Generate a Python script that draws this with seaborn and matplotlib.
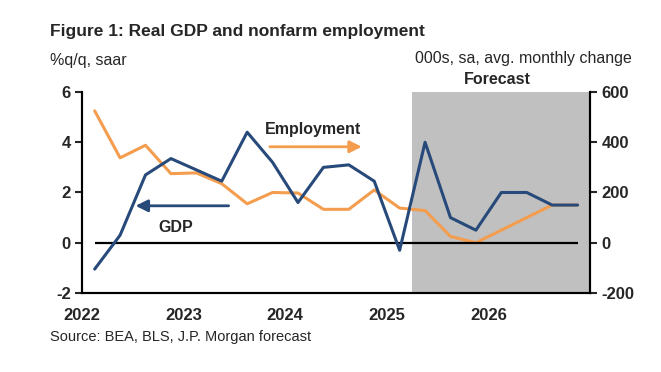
"""
Figure 1: Real GDP and nonfarm employment (twin-axis line chart).
"""
import numpy as np
import pandas as pd
import matplotlib
matplotlib.use('Agg')
import matplotlib.pyplot as plt
import seaborn as sns

sns.set_theme(style='white')
plt.rcParams['font.family'] = ['Liberation Sans', 'DejaVu Sans']

# quarterly data, 2022Q1 .. 2026Q4
years    = [2022]*4 + [2023]*4 + [2024]*4 + [2025]*4 + [2026]*4
quarters = [1, 2, 3, 4] * 5
gdp = [-1.05, 0.3, 2.7, 3.35, 2.9, 2.45, 4.4, 3.2, 1.6, 3.0, 3.1, 2.45,
       -0.3, 4.0, 1.0, 0.5, 2.0, 2.0, 1.5, 1.5]
employment = [525, 338, 388, 275, 278, 235, 155, 200, 198, 133, 133, 210,
              138, 128, 25, 0, 50, 100, 150, 150]
year_ticks = [2022, 2023, 2024, 2025, 2026]
forecast_start = 2025.25

GDP_COLOR = '#274a7a'
EMP_COLOR = '#f49d4e'

df = pd.DataFrame({'year': years, 'q': quarters, 'gdp': gdp, 'emp': employment})
df['t'] = df['year'] + (df['q'] - 0.5) / 4

fig = plt.figure(figsize=(6.61, 3.72), dpi=100)
ax = fig.add_axes([0.124, 0.2124, 0.769, 0.5403])
ax2 = ax.twinx()

ax.set_xlim(2022, 2027)
ax.set_ylim(-2, 6)
ax2.set_ylim(-200, 600)

# shading and employment live on the right-hand axis (drawn underneath)
ax2.axvspan(forecast_start, 2027, color='#c0c0c0', lw=0, zorder=0)
sns.lineplot(data=df, x='t', y='emp', ax=ax2, color=EMP_COLOR, lw=2.2, zorder=2)

ax.set_zorder(ax2.get_zorder() + 1)
ax.patch.set_visible(False)
ax.hlines(0, df['t'].iloc[0], df['t'].iloc[-1], color='black', lw=1.6, zorder=1)
sns.lineplot(data=df, x='t', y='gdp', ax=ax, color=GDP_COLOR, lw=2.2, zorder=3)

# annotations
ax.annotate('', xy=(2024.78, 3.82), xytext=(2023.82, 3.82),
            arrowprops=dict(arrowstyle='-|>', color=EMP_COLOR, lw=2,
                            mutation_scale=18))
ax.text(2024.27, 4.52, 'Employment', ha='center', va='center',
        fontsize=11.5, fontweight='bold')
ax.annotate('', xy=(2022.5, 1.47), xytext=(2023.47, 1.47),
            arrowprops=dict(arrowstyle='-|>', color=GDP_COLOR, lw=2,
                            mutation_scale=18))
ax.text(2022.92, 0.6, 'GDP', ha='center', va='center',
        fontsize=11.5, fontweight='bold')

# axes styling
for a in (ax, ax2):
    a.set_xlabel('')
    a.set_ylabel('')
    a.spines['top'].set_visible(False)
    for s in ('left', 'right', 'bottom'):
        a.spines[s].set_color('black')
        a.spines[s].set_linewidth(1.5)
ax.set_xticks(year_ticks)
ax.set_xticklabels([str(y) for y in year_ticks], fontsize=12, fontweight='bold')
ax.set_yticks([-2, 0, 2, 4, 6])
ax.set_yticklabels(['-2', '0', '2', '4', '6'], fontsize=12, fontweight='bold')
ax2.set_yticks([-200, 0, 200, 400, 600])
ax2.set_yticklabels(['-200', '0', '200', '400', '600'], fontsize=12, fontweight='bold')
ax.tick_params(axis='x', direction='inout', length=7, width=1.5, pad=7)
ax.tick_params(axis='y', direction='out', length=5, width=1.5, pad=3, left=True)
ax2.tick_params(axis='y', direction='out', length=5, width=1.5, pad=3, right=True)
ax2.tick_params(axis='x', bottom=False, labelbottom=False)

fig.text(0.076, 0.915, 'Figure 1: Real GDP and nonfarm employment',
         fontsize=12.5, fontweight='bold', va='center')
fig.text(0.076, 0.838, '%q/q, saar', fontsize=11.5, va='center')
fig.text(0.956, 0.843, '000s, sa, avg. monthly change', fontsize=11.5,
         va='center', ha='right')
fig.text(0.752, 0.787, 'Forecast', fontsize=11.5, fontweight='bold',
         va='center', ha='center')
fig.text(0.076, 0.094, 'Source: BEA, BLS, J.P. Morgan forecast',
         fontsize=10.5, va='center')

fig.savefig('out.png', dpi=100)
